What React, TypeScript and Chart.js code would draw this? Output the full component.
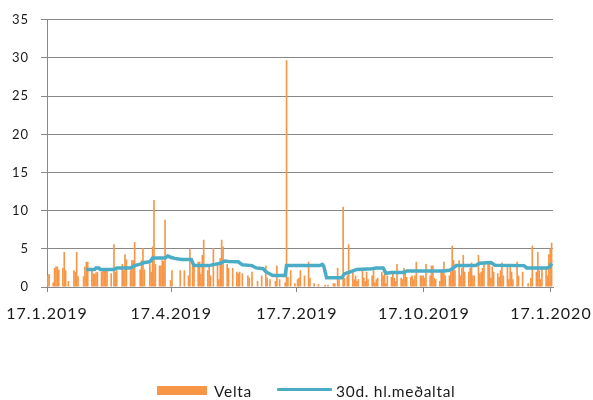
import { useEffect, useRef } from "react";
import { Chart, registerables } from "chart.js";

Chart.register(...registerables);

// Days counted from 17.1.2019 (day 0) to 17.1.2020 (day 365)
const tickDays = [0, 90, 181, 273, 365];
const tickLabels = ["17.1.2019", "17.4.2019", "17.7.2019", "17.10.2019", "17.1.2020"];

// Daily turnover (Velta), one value per calendar day starting Thu 17.1.2019
const velta = [
  1.5, 1.7, 0, 0,
  0.6, 2.5, 2.7, 2.7, 2.3, 0, 0,
  2.5, 4.6, 2.2, 0, 0.8, 0, 0,
  0, 2.2, 2.0, 4.6, 1.4, 0, 0,
  0, 1.4, 2.7, 3.3, 3.3, 0, 0,
  2.2, 1.8, 1.7, 1.9, 2.0, 0, 0,
  2.0, 2.2, 2.2, 2.1, 2.2, 0, 0,
  1.8, 0, 5.6, 2.0, 2.2, 0, 0,
  0, 3.0, 2.2, 4.3, 3.6, 0, 0,
  2.2, 3.5, 3.5, 5.9, 0, 0, 0,
  2.3, 3.5, 5.1, 2.3, 0, 0, 0,
  3.0, 2.0, 5.3, 11.4, 3.0, 0, 0,
  2.8, 2.8, 3.5, 3.4, 8.8, 0, 0,
  0, 0.9, 2.2, 0, 0, 0, 0,
  0, 2.2, 0, 0, 2.2, 0, 0,
  1.5, 5.0, 0, 3.1, 2.8, 0, 0,
  3.3, 3.3, 1.7, 4.2, 6.2, 0, 0,
  2.2, 2.8, 1.5, 0, 5.1, 0, 0,
  3.0, 1.0, 3.8, 6.2, 5.3, 0, 0,
  3.0, 2.5, 0, 0, 2.5, 0, 0,
  2.0, 1.8, 2.0, 0, 1.8, 0, 0,
  0, 1.5, 1.2, 0, 2.0, 0, 0,
  0, 0.8, 0, 0, 1.5, 0, 0,
  2.8, 1.2, 0, 1.0, 0, 0, 0,
  0.8, 2.8, 0, 1.0, 0, 0, 0,
  0.6, 29.7, 1.3, 0, 2.2, 0, 0,
  0.5, 0, 1.0, 1.2, 2.2, 0, 0,
  1.5, 0, 0, 3.3, 1.2, 0, 0,
  0.5, 0, 0, 0.4, 0, 0, 0,
  0, 0.3, 0, 0.3, 0, 0, 0,
  0.5, 0.5, 0, 2.5, 1.0, 0, 0,
  10.5, 1.2, 0, 1.5, 5.6, 0, 0,
  2.0, 1.0, 1.5, 0.8, 1.0, 0, 0,
  2.5, 1.2, 0.8, 2.0, 1.0, 0, 0,
  1.5, 2.2, 0.6, 1.0, 1.2, 0, 0,
  2.0, 1.5, 2.2, 0.5, 1.5, 0, 0,
  1.3, 1.8, 1.2, 0.8, 3.0, 0, 0,
  1.2, 1.0, 2.5, 2.2, 1.3, 0, 0,
  1.3, 1.5, 1.0, 1.5, 3.3, 0, 0,
  1.5, 1.5, 1.5, 1.2, 3.0, 0, 0,
  1.5, 2.8, 2.8, 1.2, 1.0, 0, 0,
  0.8, 2.0, 2.3, 3.3, 1.5, 0, 0,
  1.5, 2.0, 5.4, 3.5, 2.2, 0, 0,
  3.5, 1.5, 2.5, 4.2, 2.0, 0, 0,
  2.0, 2.5, 3.2, 1.5, 1.5, 0, 0,
  4.2, 1.8, 2.0, 2.5, 3.0, 0, 0,
  3.2, 3.0, 1.2, 2.7, 2.0, 0, 0,
  1.8, 1.3, 2.2, 3.2, 1.5, 0, 0,
  2.8, 1.0, 3.0, 2.0, 1.0, 0, 0,
  3.3, 1.5, 0, 0, 2.0, 0, 0,
  0, 0.5, 0, 1.2, 5.4, 0, 0,
  2.0, 4.6, 2.2, 1.0, 2.5, 0, 0,
  2.5, 1.5, 4.3, 5.0, 5.8,
];

// 30-day moving average (30d. hl.meðaltal): day index and value
const maDays = [
  28, 34, 35, 37, 38, 48, 50, 60, 63, 67, 70, 74, 76, 85, 87, 89, 92, 97, 104, 106,
  117, 119, 122, 125, 128, 131, 138, 141, 148, 151, 156, 158, 161, 163, 172, 173,
  197, 199, 200, 202, 213, 215, 218, 221, 224, 235, 238, 243, 245, 249, 258, 260,
  287, 291, 293, 296, 310, 313, 321, 324, 345, 347, 362, 364, 365,
];
const maValues = [
  2.3, 2.3, 2.5, 2.5, 2.3, 2.3, 2.5, 2.5, 2.8, 3.0, 3.2, 3.3, 3.8, 3.8, 4.05, 3.9, 3.75, 3.6, 3.6, 2.8,
  2.8, 2.9, 3.0, 3.1, 3.4, 3.35, 3.3, 2.9, 2.8, 2.5, 2.4, 2.0, 1.7, 1.5, 1.5, 2.8,
  2.8, 2.95, 2.7, 1.2, 1.2, 1.75, 1.9, 2.1, 2.3, 2.4, 2.5, 2.5, 1.8, 1.9, 1.9, 2.1,
  2.1, 2.2, 2.4, 2.8, 2.8, 3.1, 3.2, 2.85, 2.8, 2.5, 2.5, 2.7, 3.1,
];

const yMax = 35;
const yStep = 5;

const ORANGE = "#F79646";
const TEAL = "#4BACC6";
const GRID = "#888888";
const TEXT = "#1a1a1a";

export default function App() {
  const canvasRef = useRef<HTMLCanvasElement | null>(null);

  useEffect(() => {
    const canvas = canvasRef.current;
    if (!canvas) return;

    const spacingPlugin = {
      id: "letterSpacing",
      beforeLayout(chart: any) {
        chart.ctx.letterSpacing = "1px";
      },
      beforeDraw(chart: any) {
        chart.ctx.letterSpacing = "1px";
      },
    };

    const chart = new Chart(canvas, {
      type: "bar",
      data: {
        datasets: [
          {
            type: "line",
            label: "30d. hl.meðaltal",
            data: maDays.map((d, i) => ({ x: d + 0.5, y: maValues[i] })),
            borderColor: TEAL,
            backgroundColor: TEAL,
            borderWidth: 3.5,
            pointRadius: 0,
            tension: 0,
            order: 0,
          } as any,
          {
            type: "bar",
            label: "Velta",
            data: velta.map((v, i) => ({ x: i + 0.5, y: v })),
            backgroundColor: ORANGE,
            borderWidth: 0,
            barPercentage: 1.2,
            categoryPercentage: 1,
            order: 1,
          } as any,
        ],
      },
      options: {
        animation: false,
        responsive: false,
        maintainAspectRatio: false,
        layout: { padding: { top: 18, right: 40, bottom: 0, left: 0 } },
        plugins: {
          legend: { display: false },
          tooltip: { enabled: false },
        },
        scales: {
          x: {
            type: "linear",
            offset: false,
            min: 0,
            max: 366.5,
            afterBuildTicks: (scale: any) => {
              scale.ticks = tickDays.map((v) => ({ value: v }));
            },
            afterFit: (scale: any) => {
              scale.height = 113;
              scale.paddingLeft = 0;
              scale.paddingRight = 0;
            },
            ticks: {
              autoSkip: false,
              maxRotation: 0,
              padding: 12,
              color: TEXT,
              font: { family: "Lato", size: 16 },
              callback: (v: any) => {
                const k = tickDays.indexOf(Number(v));
                return k >= 0 ? tickLabels[k] : "";
              },
            },
            grid: {
              offset: false,
              drawOnChartArea: false,
              drawTicks: true,
              tickLength: 5,
              color: GRID,
            },
            border: { display: true, color: GRID },
          },
          y: {
            min: 0,
            max: yMax,
            afterFit: (scale: any) => {
              scale.width = 47;
            },
            ticks: {
              stepSize: yStep,
              padding: 12,
              color: TEXT,
              font: { family: "Lato", size: 13 },
            },
            grid: { color: GRID, tickLength: 6 },
            border: { display: true, color: GRID },
          },
        },
      },
      plugins: [spacingPlugin],
    });

    return () => chart.destroy();
  }, []);

  const legendText: React.CSSProperties = {
    position: "absolute",
    fontFamily: "Lato",
    fontSize: "15.5px",
    lineHeight: "15.5px",
    letterSpacing: "0.7px",
    color: TEXT,
    whiteSpace: "nowrap",
  };

  return (
    <div style={{ position: "fixed", left: 0, top: 0, width: 593, height: 400, background: "#fff" }}>
      <canvas ref={canvasRef} width={593} height={400} style={{ width: 593, height: 400, display: "block" }} />
      <div style={{ position: "absolute", left: 157, top: 386, width: 50, height: 9, background: ORANGE }} />
      <div style={{ ...legendText, left: 214, top: 383.5 }}>Velta</div>
      <div style={{ position: "absolute", left: 277, top: 387.5, width: 55, height: 3.5, background: TEAL, borderRadius: 1 }} />
      <div style={{ ...legendText, left: 336, top: 383.5 }}>30d. hl.meðaltal</div>
    </div>
  );
}
